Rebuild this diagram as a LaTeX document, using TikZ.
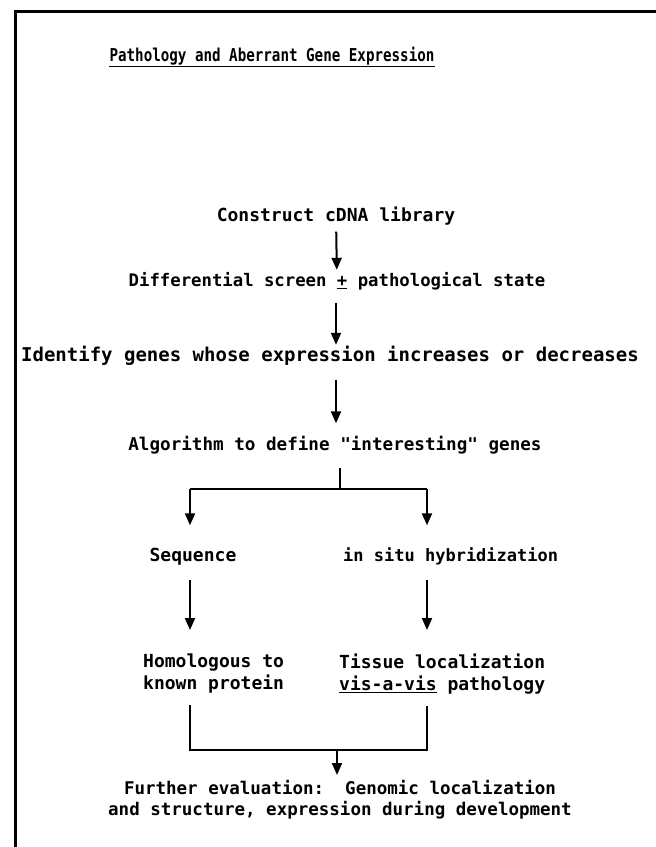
\documentclass[tikz,border=0pt]{standalone}
\usepackage{fontspec}
\usepackage{graphicx}
\newfontfamily\tw{DejaVu Sans Mono}
\usetikzlibrary{arrows.meta}
\newcommand{\fsz}[1]{\fontsize{#1}{21.5}\selectfont}
\begin{document}
\begin{tikzpicture}[x=1pt,y=-1pt,
  txt/.style={font=\tw\bfseries\fsz{18}, inner sep=0pt, text height=13pt, text depth=4pt},
  mtxt/.style={font=\tw\bfseries\fsz{18}, inner sep=0pt},
  ttl/.style={font=\tw\bfseries\fontsize{14.2}{17}\selectfont, inner sep=0pt},
  arr/.style={line width=2pt, -{Triangle[width=10pt,length=12pt]}},
  ln/.style={line width=2pt, line join=miter}]
\useasboundingbox (0,0) rectangle (656,847);
\fill[white] (0,0) rectangle (656,847);
\draw[line width=3pt] (15,847) -- (15,11.5) -- (656,11.5);
% title
\node[ttl] (title) at (272,56) {\scalebox{1}[1.25]{Pathology and Aberrant Gene Expression}};
\draw[line width=1.4pt] ([yshift=-5pt]title.base west) -- ([yshift=-5pt]title.base east);
% main chain
\node[txt] (c1) at (336,217) {Construct cDNA library};
\node[txt, font=\tw\bfseries\fsz{17.3}] (c2) at (337,282) {Differential screen \underline{+} pathological state};
\node[txt, font=\tw\bfseries\fsz{19}] (c3) at (330,357) {Identify genes whose expression increases or decreases};
\node[txt, font=\tw\bfseries\fsz{17.6}] (c4) at (335,446) {Algorithm to define "interesting" genes};
\draw[arr, shorten <=6pt, shorten >=3.5pt] (c1) -- (c2);
\draw[arr, shorten <=12pt, shorten >=3.5pt] (c2.south -| c1) -- (c3.north -| c1);
\draw[arr, shorten <=14pt, shorten >=14pt] (c3.south -| c1) -- (c4.north -| c1);
% split
\coordinate (sp) at (340,489);
\coordinate (sl) at (190,489);
\coordinate (sr) at (427,489);
\node[txt] (seq) at (193,557) {Sequence};
\node[txt, anchor=west, font=\tw\bfseries\fsz{17}] (ish) at (343,557) {in situ hybridization};
\draw[ln, shorten <=13pt] (c4.south -| sp) -- (sp);
\draw[ln] (sl) -- (sr);
\draw[arr, shorten >=23pt] (sl) -- (sl |- seq.north);
\draw[arr, shorten >=23pt] (sr) -- (sr |- ish.north);
% second level
\node[mtxt, align=left, anchor=north west] (homol) at (143,654) {Homologous to\\known protein};
\node[mtxt, align=left, anchor=north west] (tissue) at (339,654) {Tissue localization\\\underline{vis-a-vis} pathology};
\draw[arr, shorten <=14pt, shorten >=24pt] (seq.south -| sl) -- (homol.north -| sl);
\draw[arr, shorten <=14pt, shorten >=24pt] (ish.south -| sr) -- (tissue.north -| sr);
% join
\coordinate (jl) at (190,750);
\coordinate (jr) at (427,750);
\coordinate (jm) at (337,750);
\node[mtxt, font=\tw\bfseries\fsz{17.5}, align=center, anchor=north] (final) at (340,780) {Further evaluation:\ \ Genomic localization\\and structure, expression during development};
\draw[ln, shorten <=12pt, shorten >=12pt] (homol.south -| jl) -- (jl) -- (jr) -- (tissue.south -| jr);
\draw[arr, shorten >=5pt] (jm) -- (final.north -| jm);
\end{tikzpicture}
\end{document}
